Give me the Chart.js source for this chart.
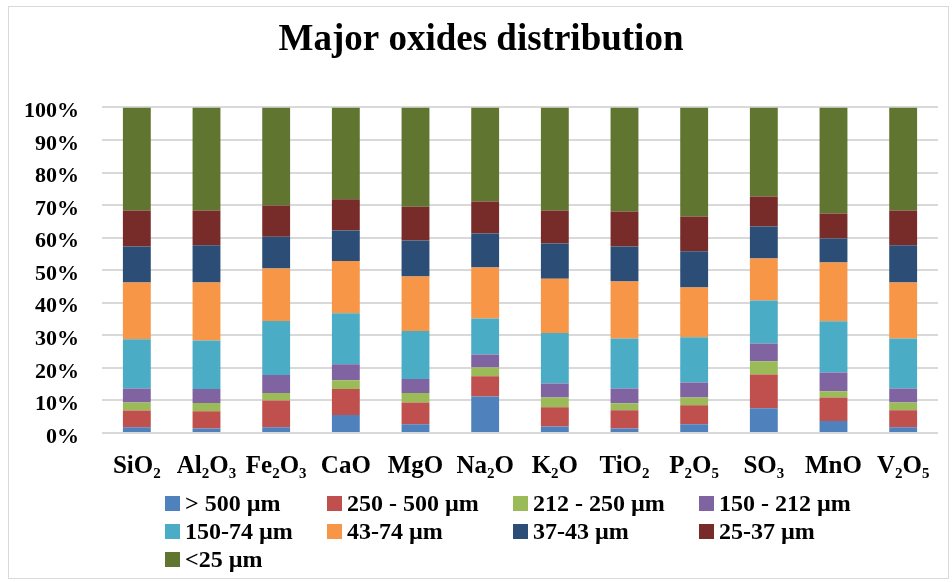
<!DOCTYPE html>
<html>
<head>
<meta charset="utf-8">
<title>Major oxides distribution</title>
<script src="https://cdn.jsdelivr.net/npm/chart.js@4.4.1/dist/chart.umd.min.js"></script>
<style>
  html, body { margin: 0; padding: 0; background: #fff; }
  #wrap { position: relative; width: 952px; height: 582px; }
  #frame {
    position: absolute; left: 8px; top: 6px; width: 939px; height: 571px;
    border: 1.5px solid #d9d9d9; pointer-events: none;
  }
</style>
</head>
<body>
<div id="wrap">
  <canvas id="oxideChart" width="952" height="582"></canvas>
  <div id="frame"></div>
</div>
<script>
// Categories (oxides)
const oxides = ['SiO₂', 'Al₂O₃', 'Fe₂O₃', 'CaO', 'MgO', 'Na₂O', 'K₂O', 'TiO₂', 'P₂O₅', 'SO₃', 'MnO', 'V₂O₅'];

// Size fractions, % of each oxide
const gt500    = [1.8, 1.4, 1.8, 5.5, 2.7, 11.2, 2.0, 1.4, 2.7, 7.6, 3.7, 1.8];
const s250_500 = [5.1, 5.3, 8.2, 8.0, 6.7, 6.2, 5.9, 5.6, 5.8, 10.4, 7.2, 5.2];
const s212_250 = [2.5, 2.5, 2.3, 2.7, 2.9, 2.7, 3.0, 2.1, 2.4, 4.0, 1.9, 2.4];
const s150_212 = [4.3, 4.3, 5.5, 4.9, 4.3, 4.0, 4.3, 4.6, 4.6, 5.5, 5.8, 4.3];
const s74_150  = [15.1, 14.9, 16.6, 15.7, 14.7, 11.1, 15.5, 15.3, 13.9, 13.2, 15.7, 15.3];
const s43_74   = [17.4, 17.8, 16.1, 16.0, 16.8, 15.6, 16.7, 17.5, 15.3, 12.9, 18.1, 17.2];
const s37_43   = [11.1, 11.5, 9.8, 9.4, 11.0, 10.5, 10.8, 10.8, 11.1, 9.8, 7.3, 11.5];
const s25_37   = [11.0, 10.6, 9.6, 9.6, 10.4, 9.8, 10.1, 10.7, 10.7, 9.2, 7.7, 10.6];
const lt25     = [31.7, 31.7, 30.1, 28.2, 30.5, 28.9, 31.7, 32.0, 33.5, 27.4, 32.6, 31.7];

const seriesLabels = ['> 500 µm', '250 - 500 µm', '212 - 250 µm', '150 - 212 µm',
  '150-74 µm', '43-74 µm', '37-43 µm', '25-37 µm', '<25 µm'];
const seriesData = [gt500, s250_500, s212_250, s150_212, s74_150, s43_74, s37_43, s25_37, lt25];
const seriesColors = ['#4F81BD', '#C0504D', '#9BBB59', '#8064A2', '#4BACC6',
  '#F79646', '#2C4D75', '#772C2A', '#5F7530'];

// Y tick values
const yTicks = [0, 10, 20, 30, 40, 50, 60, 70, 80, 90, 100];

const serif = '"Liberation Serif", "Times New Roman", serif';

// Excel style legend: fixed columns, 4 per row
const gridLegend = {
  id: 'gridLegend',
  afterDraw(chart) {
    const ctx = chart.ctx;
    const cols = [165, 327, 513, 699];
    const rows = [503.5, 531.5, 559.5];
    ctx.save();
    ctx.font = 'bold 24px ' + serif;
    ctx.textBaseline = 'middle';
    ctx.textAlign = 'left';
    chart.data.datasets.forEach((ds, i) => {
      const x = cols[i % 4];
      const y = rows[Math.floor(i / 4)];
      ctx.fillStyle = ds.backgroundColor;
      ctx.fillRect(x, y - 7.5, 15, 15);
      ctx.fillStyle = '#000';
      ctx.fillText(ds.label, x + 20, y + 1);
    });
    ctx.restore();
  }
};

new Chart(document.getElementById('oxideChart'), {
  type: 'bar',
  data: {
    labels: oxides,
    datasets: seriesData.map((d, i) => ({
      label: seriesLabels[i],
      data: d,
      backgroundColor: seriesColors[i],
      borderWidth: 0,
      barPercentage: 0.4,
      categoryPercentage: 1
    }))
  },
  options: {
    responsive: false,
    animation: false,
    layout: { padding: { left: 24, right: 14, top: 0, bottom: 81 } },
    plugins: {
      legend: { display: false },
      tooltip: { enabled: false },
      title: {
        display: true,
        text: 'Major oxides distribution',
        color: '#000',
        font: { family: serif, size: 37, weight: 'bold' },
        padding: { top: 18, bottom: 45 }
      }
    },
    scales: {
      x: {
        stacked: true,
        grid: { display: false, drawTicks: false },
        border: { display: false },
        afterFit: (scale) => { scale.paddingLeft = 0; scale.paddingRight = 0; },
        ticks: {
          color: '#000',
          padding: 19,
          font: { family: serif, size: 25, weight: 'bold' }
        }
      },
      y: {
        stacked: true,
        min: 0,
        max: 100,
        afterBuildTicks: (scale) => { scale.ticks = yTicks.map(v => ({ value: v })); },
        // chart.js reserves the tick padding twice, keep only label + one padding
        afterFit: (scale) => { scale.width = 78; },
        grid: { color: '#d9d9d9', lineWidth: 2, drawTicks: false },
        border: { display: false },
        ticks: {
          color: '#000',
          padding: 23,
          labelOffset: 4,
          font: { family: serif, size: 22, weight: 'bold' },
          callback: (v) => v + '%'
        }
      }
    }
  },
  plugins: [gridLegend]
});
</script>
</body>
</html>
